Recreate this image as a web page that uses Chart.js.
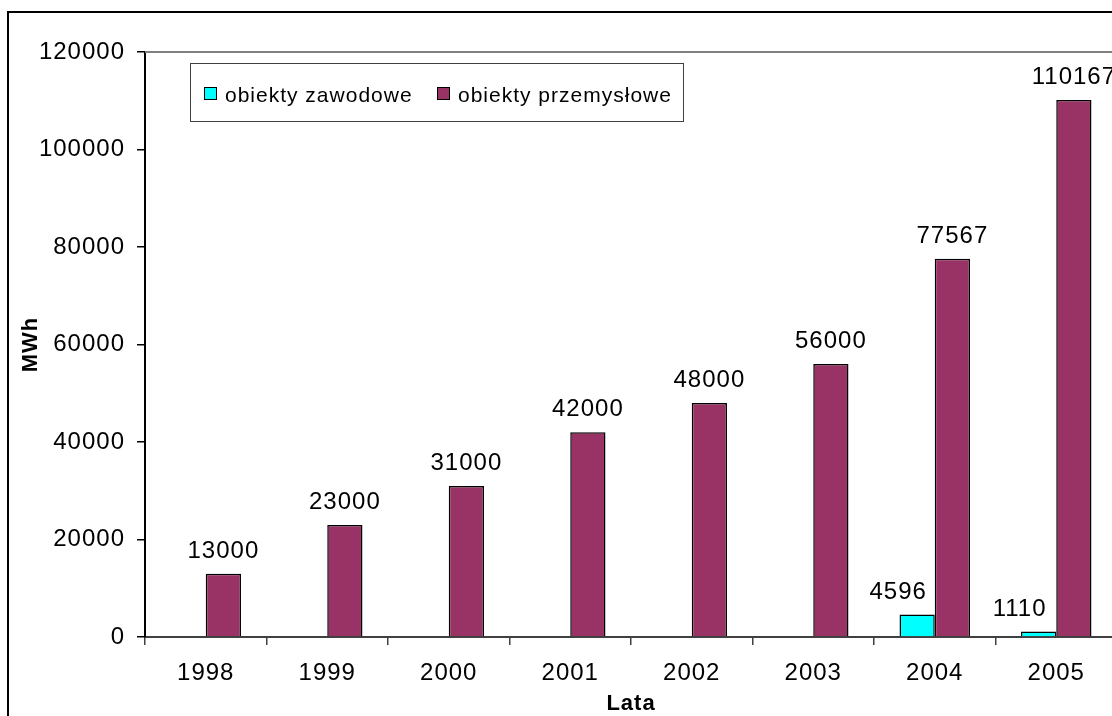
<!DOCTYPE html>
<html>
<head>
<meta charset="utf-8">
<script src="https://cdn.jsdelivr.net/npm/chart.js@4"></script>
<style>
html, body { margin: 0; padding: 0; background: #fff; overflow: hidden; }
#frame { position: absolute; left: 7px; top: 11px; width: 1200px; height: 800px; border: 2px solid #000; }
#wrap { position: absolute; left: 0; top: 0; width: 1130px; height: 730px; }
</style>
</head>
<body>
<div id="frame"></div>
<div id="wrap"><canvas id="energyChart" width="1130" height="730"></canvas></div>
<script>
const years = ['1998', '1999', '2000', '2001', '2002', '2003', '2004', '2005'];
const zawodowe = [null, null, null, null, null, null, 4596, 1110];
const przemyslowe = [13000, 23000, 31000, 42000, 48000, 56000, 77567, 110167];
const seriesNames = ['obiekty zawodowe', 'obiekty przemysłowe'];
const seriesColors = ['#00FFFF', '#993366'];
const yMin = 0, yMax = 120000, yStep = 20000;

const FONT = '"Liberation Sans", Arial, sans-serif';

// keep the slightly spaced Excel look on all canvas text
const spacingPlugin = {
    id: 'spacing',
    beforeLayout(chart) { chart.ctx.letterSpacing = '1px'; },
    beforeDraw(chart) { chart.ctx.letterSpacing = '1px'; }
};

// gray plot-area frame behind the bars
const plotFrame = {
    id: 'plotFrame',
    beforeDatasetsDraw(chart) {
        const { ctx, chartArea: a } = chart;
        ctx.save();
        ctx.strokeStyle = '#808080';
        ctx.lineWidth = 2;
        ctx.beginPath();
        ctx.moveTo(a.left, a.top);
        ctx.lineTo(a.right, a.top);
        ctx.stroke();
        ctx.restore();
    }
};

// value labels above bars
const valueLabels = {
    id: 'valueLabels',
    afterDatasetsDraw(chart) {
        const ctx = chart.ctx;
        const shift = [-19, 0];
        ctx.save();
        ctx.font = '24px ' + FONT;
        ctx.fillStyle = '#000';
        ctx.textAlign = 'center';
        ctx.textBaseline = 'alphabetic';
        chart.data.datasets.forEach((ds, i) => {
            chart.getDatasetMeta(i).data.forEach((bar, j) => {
                const v = ds.data[j];
                if (v === null) return;
                ctx.fillText(String(v), bar.x + shift[i], bar.y - 16);
            });
        });
        ctx.restore();
    }
};

// boxed legend inside the plot, Excel style
const boxLegend = {
    id: 'boxLegend',
    afterDraw(chart) {
        const ctx = chart.ctx;
        ctx.save();
        ctx.strokeStyle = '#404040';
        ctx.lineWidth = 1;
        ctx.fillStyle = '#fff';
        ctx.fillRect(190.5, 63.5, 493, 58);
        ctx.strokeRect(190.5, 63.5, 493, 58);
        ctx.font = '21px ' + FONT;
        ctx.textBaseline = 'alphabetic';
        ctx.textAlign = 'left';
        const sx = [204.5, 437.5];
        const tx = [225, 458];
        chart.data.datasets.forEach((ds, i) => {
            ctx.fillStyle = ds.backgroundColor;
            ctx.fillRect(sx[i], 87.5, 12, 12);
            ctx.strokeStyle = '#000';
            ctx.strokeRect(sx[i], 87.5, 12, 12);
            ctx.fillStyle = '#000';
            ctx.fillText(ds.label, tx[i], 101.5);
        });
        ctx.restore();
    }
};

new Chart(document.getElementById('energyChart'), {
    type: 'bar',
    data: {
        labels: years,
        datasets: [
            {
                label: seriesNames[0],
                data: zawodowe,
                backgroundColor: seriesColors[0],
                borderColor: '#000',
                borderWidth: 1.5
            },
            {
                label: seriesNames[1],
                data: przemyslowe,
                backgroundColor: seriesColors[1],
                borderColor: '#000',
                borderWidth: 1.5
            }
        ]
    },
    options: {
        responsive: false,
        animation: false,
        events: [],
        layout: { padding: { top: 52, right: 13, left: 0, bottom: 0 } },
        datasets: { bar: { categoryPercentage: 0.58, barPercentage: 1 } },
        plugins: { legend: { display: false }, tooltip: { enabled: false } },
        scales: {
            x: {
                afterFit(scale) { scale.height = 93; },
                grid: { drawOnChartArea: false, drawTicks: true, tickLength: 8, color: '#404040', lineWidth: 1.5 },
                border: { display: true, color: '#404040', width: 2 },
                ticks: { color: '#000', padding: 14, font: { family: FONT, size: 24 } },
                title: {
                    display: true, text: 'Lata', color: '#000',
                    font: { family: FONT, size: 22, weight: 'bold' },
                    padding: { top: 13, bottom: 13 }
                }
            },
            y: {
                min: yMin, max: yMax,
                afterFit(scale) { scale.width = 145; },
                grid: { drawOnChartArea: false, drawTicks: true, tickLength: 8, color: '#000', lineWidth: 1.5 },
                border: { display: true, color: '#000', width: 2 },
                ticks: {
                    stepSize: yStep, color: '#000', padding: 12,
                    font: { family: FONT, size: 24 },
                    callback: (v) => String(v)
                },
                title: {
                    display: true, text: 'MWh', color: '#000',
                    font: { family: FONT, size: 22, weight: 'bold' },
                    padding: { top: 18, bottom: 18 }
                }
            }
        }
    },
    plugins: [spacingPlugin, plotFrame, valueLabels, boxLegend]
});
</script>
</body>
</html>
